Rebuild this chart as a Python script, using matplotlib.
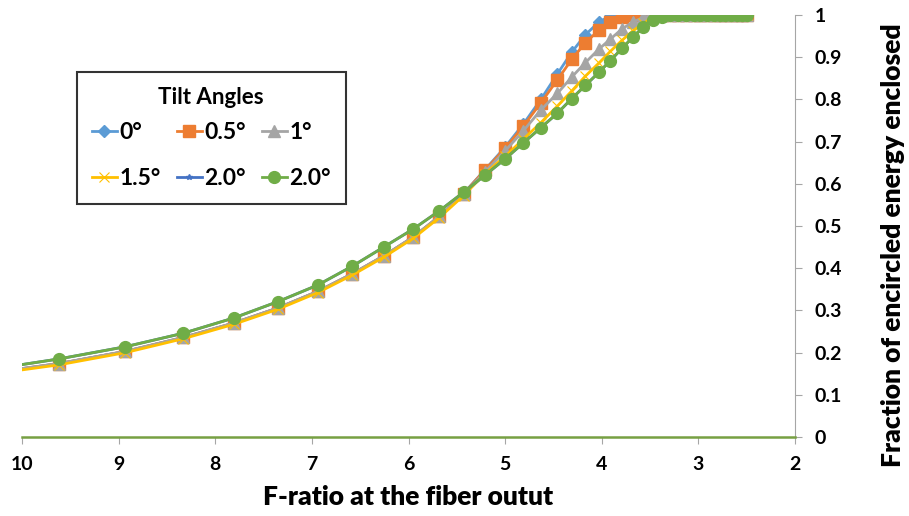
import matplotlib
matplotlib.use("Agg")
import matplotlib.pyplot as plt

plt.rcParams["font.family"] = ["Lato", "DejaVu Sans"]
plt.rcParams["font.weight"] = "bold"

# F-ratio at the fiber output (shared by all series)
f_ratio = [10.42, 9.62, 8.93, 8.33, 7.81, 7.35, 6.94, 6.58, 6.25, 5.95,
           5.68, 5.43, 5.21, 5.00, 4.81, 4.63, 4.46, 4.31, 4.17, 4.03,
           3.91, 3.79, 3.68, 3.57, 3.47, 3.38, 3.29, 3.21, 3.13, 3.05,
           2.98, 2.91, 2.84, 2.78, 2.72, 2.66, 2.60, 2.55, 2.50]

ee_0 = [0.149, 0.174, 0.203, 0.236, 0.270, 0.306, 0.345, 0.387, 0.430, 0.474,
        0.523, 0.577, 0.633, 0.687, 0.742, 0.800, 0.860, 0.912, 0.953, 0.983,
        0.998, 1.0, 1.0, 1.0, 1.0, 1.0, 1.0, 1.0, 1.0, 1.0,
        1.0, 1.0, 1.0, 1.0, 1.0, 1.0, 1.0, 1.0, 1.0]
ee_05 = [0.149, 0.174, 0.203, 0.236, 0.270, 0.306, 0.345, 0.387, 0.430, 0.474,
         0.523, 0.577, 0.632, 0.684, 0.737, 0.792, 0.846, 0.895, 0.934, 0.964,
         0.984, 0.996, 1.0, 1.0, 1.0, 1.0, 1.0, 1.0, 1.0, 1.0,
         1.0, 1.0, 1.0, 1.0, 1.0, 1.0, 1.0, 1.0, 1.0]
ee_1 = [0.149, 0.174, 0.203, 0.236, 0.270, 0.306, 0.345, 0.387, 0.430, 0.474,
        0.523, 0.576, 0.628, 0.678, 0.726, 0.775, 0.814, 0.853, 0.887, 0.919,
        0.943, 0.967, 0.983, 0.994, 1.0, 1.0, 1.0, 1.0, 1.0, 1.0,
        1.0, 1.0, 1.0, 1.0, 1.0, 1.0, 1.0, 1.0, 1.0]
ee_15 = [0.146, 0.171, 0.200, 0.233, 0.267, 0.303, 0.342, 0.384, 0.427, 0.471,
         0.520, 0.572, 0.624, 0.665, 0.706, 0.745, 0.784, 0.820, 0.855, 0.886,
         0.914, 0.940, 0.962, 0.980, 0.993, 1.0, 1.0, 1.0, 1.0, 1.0,
         1.0, 1.0, 1.0, 1.0, 1.0, 1.0, 1.0, 1.0, 1.0]
ee_2 = [0.157, 0.185, 0.214, 0.246, 0.282, 0.321, 0.360, 0.405, 0.451, 0.493,
        0.536, 0.580, 0.620, 0.659, 0.697, 0.733, 0.767, 0.802, 0.833, 0.864,
        0.892, 0.921, 0.947, 0.971, 0.987, 0.996, 1.0, 1.0, 1.0, 1.0,
        1.0, 1.0, 1.0, 1.0, 1.0, 1.0, 1.0, 1.0, 1.0]

labels = ["0°", "0.5°", "1°", "1.5°", "2.0°", "2.0°"]

fig = plt.figure(figsize=(9.09, 5.16), dpi=100)
ax = fig.add_axes([0.0242, 0.153, 0.8504, 0.818])

lw = 2.0
h0, = ax.plot(f_ratio, ee_0, color="#5B9BD5", marker="D", ms=6, lw=lw, label=labels[0])
h1, = ax.plot(f_ratio, ee_05, color="#ED7D31", marker="s", ms=8.5, lw=lw, label=labels[1])
h2, = ax.plot(f_ratio, ee_1, color="#A5A5A5", marker="^", ms=8.5, lw=lw, label=labels[2])
h3, = ax.plot(f_ratio, ee_15, color="#FFC000", marker="x", ms=7, mew=0.8, lw=lw, label=labels[3])
h4, = ax.plot(f_ratio, ee_2, color="#4472C4", marker="*", ms=4, lw=lw, label=labels[4])
h5, = ax.plot(f_ratio, ee_2, color="#70AD47", marker="o", ms=8.5, lw=lw, label=labels[5])

ax.set_xlim(10, 2)
ax.set_ylim(0, 1)
ax.set_xticks(range(10, 1, -1))
ax.set_yticks([i / 10 for i in range(11)])
ax.set_yticklabels(["0", "0.1", "0.2", "0.3", "0.4", "0.5", "0.6", "0.7", "0.8", "0.9", "1"])

ax.yaxis.tick_right()
for s in ["top", "left"]:
    ax.spines[s].set_visible(False)
ax.spines["right"].set_color("#A6A6A6")
ax.spines["bottom"].set_color("#77A043")
ax.spines["bottom"].set_linewidth(1.8)
ax.tick_params(axis="both", colors="#A6A6A6", labelcolor="black", length=5,
               labelsize=14, direction="out")
ax.tick_params(axis="x", pad=9)
ax.tick_params(axis="y", pad=9)

ax.set_xlabel("F-ratio at the fiber outut", fontsize=19, fontweight="heavy", labelpad=8)
ax.set_ylabel("Fraction of encircled energy enclosed", fontsize=19, fontweight="heavy",
              rotation=90, va="center", ha="center")
ax.yaxis.set_label_coords(1.127, 0.455)

# order handles so rows read 0°,0.5°,1° / 1.5°,2.0°,2.0°
handles = [h0, h3, h1, h4, h2, h5]
leg = ax.legend(handles, [h.get_label() for h in handles], ncol=3, title="Tilt Angles",
                loc="upper left", bbox_to_anchor=(0.071, 0.865), borderaxespad=0,
                fontsize=16.5, title_fontsize=16, frameon=True, fancybox=False,
                handlelength=1.1, handletextpad=0.1, columnspacing=0.7,
                labelspacing=1.1, borderpad=0.65)
leg._legend_box.sep = 0.6 * 16.5
leg.get_frame().set_edgecolor("black")
leg.get_frame().set_linewidth(1.5)
leg.get_title().set_fontweight("bold")

fig.savefig("out.png", dpi=100)
